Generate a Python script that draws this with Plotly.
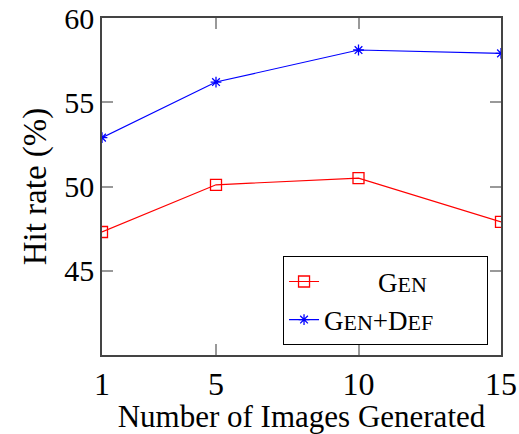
import plotly.graph_objects as go

x_vals = [1, 5, 10, 15]
gen = [47.3, 50.1, 50.5, 47.9]
gen_def = [52.9, 56.2, 58.1, 57.9]
x_ticks = [1, 5, 10, 15]
y_ticks = [45, 50, 55, 60]

FONT = "Liberation Serif"
SC = "<span style='font-size:22px'>{}</span>"
NB = "\u00a0"

name_gen = NB * 8 + "G" + SC.format("EN") + NB * 8
name_gd = "G" + SC.format("EN") + "+D" + SC.format("EF") + NB * 2

fig = go.Figure()
fig.add_trace(go.Scatter(
    x=x_vals, y=gen, mode="lines+markers", name=name_gen,
    line=dict(color="#ff0000", width=1.2),
    marker=dict(symbol="square-open", size=11, color="#ff0000", line=dict(width=1.3)),
))
fig.add_trace(go.Scatter(
    x=x_vals, y=gen_def, mode="lines+markers", name=name_gd,
    line=dict(color="#0000ff", width=1.2),
    marker=dict(symbol="asterisk-open", size=9, color="#0000ff", line=dict(width=1.3, color="#0000ff")),
))

axis_common = dict(
    showline=True, linecolor="#444444", linewidth=1.5, mirror="ticks",
    ticks="inside", ticklen=11, tickwidth=1.5, tickcolor="#999999",
    showgrid=False, zeroline=False, automargin=False,
    ticklabeloverflow="allow",
)

fig.update_xaxes(range=[1, 15], tickvals=x_ticks, ticktext=[str(v) for v in x_ticks],
                 tickfont=dict(family=FONT, size=32, color="#000000"),
                 title=dict(text="Number of Images Generated", font=dict(family=FONT, size=31, color="#000"), standoff=6),
                 **axis_common)
fig.update_yaxes(range=[40, 60], tickvals=y_ticks, ticktext=[str(v) for v in y_ticks],
                 tickfont=dict(family=FONT, size=30, color="#000000"),
                 title=dict(text="Hit rate (%)", font=dict(family=FONT, size=33, color="#000"), standoff=8),
                 **axis_common)

fig.update_layout(
    width=519, height=434,
    margin=dict(l=102, r=18, t=18, b=79),
    paper_bgcolor="white", plot_bgcolor="white",
    showlegend=True,
    legend=dict(x=0.967, y=0.029, xanchor="right", yanchor="bottom",
                bordercolor="#000000", borderwidth=1.2, bgcolor="white",
                font=dict(family=FONT, size=27, color="#000"),
                itemwidth=30, tracegroupgap=0),
)

fig.write_html("out.html")
